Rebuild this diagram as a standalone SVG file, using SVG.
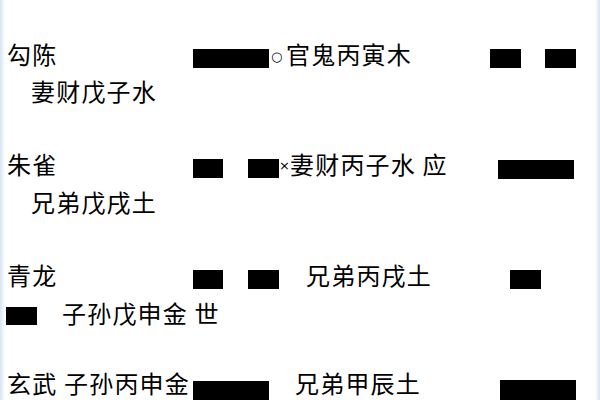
<svg xmlns="http://www.w3.org/2000/svg" width="600" height="400" viewBox="0 0 600 400">
<defs>
<linearGradient id="lb" x1="0" x2="1" y1="0" y2="0"><stop offset="0" stop-color="#d6e4f5"/><stop offset="1" stop-color="#ffffff"/></linearGradient>
<linearGradient id="rb" x1="1" x2="0" y1="0" y2="0"><stop offset="0" stop-color="#d6e4f5"/><stop offset="1" stop-color="#ffffff"/></linearGradient>
</defs>
<style>
text{font-family:"Noto Sans CJK SC","Noto Sans",sans-serif;font-size:24px;letter-spacing:1.2px;fill:#000;}
.sym{font-family:"DejaVu Sans",sans-serif;font-size:13px;letter-spacing:0;}
.bar{fill:#000;}
</style>
<rect width="600" height="400" fill="#fff"/>
<rect x="0" y="0" width="5" height="400" fill="url(#lb)"/>
<rect x="595" y="0" width="5" height="400" fill="url(#rb)"/>
<g id="row1">
<text x="7" y="64">勾陈</text>
<rect class="bar" x="193" y="49" width="76" height="19"/>
<text class="sym" x="271" y="61">○</text>
<text x="286" y="64">官鬼丙寅木</text>
<rect class="bar" x="490" y="49" width="31" height="19"/>
<rect class="bar" x="545" y="49" width="31" height="19"/>
<text x="31" y="101">妻财戊子水</text>
</g>
<g id="row2">
<text x="7" y="174">朱雀</text>
<rect class="bar" x="193" y="159" width="30" height="19"/>
<rect class="bar" x="248" y="159" width="31" height="19"/>
<text class="sym" x="279" y="170">×</text>
<text x="290" y="174">妻财丙子水 应</text>
<rect class="bar" x="498" y="160" width="76" height="19"/>
<text x="31" y="212">兄弟戊戌土</text>
</g>
<g id="row3">
<text x="7" y="285">青龙</text>
<rect class="bar" x="193" y="270" width="30" height="19"/>
<rect class="bar" x="248" y="270" width="31" height="19"/>
<text x="306" y="285">兄弟丙戌土</text>
<rect class="bar" x="510" y="270" width="31" height="19"/>
<rect class="bar" x="6" y="307" width="31" height="18"/>
<text x="62" y="323">子孙戊申金 世</text>
</g>
<g id="row4">
<text x="7" y="393">玄武 子孙丙申金</text>
<rect class="bar" x="193" y="381" width="76" height="19"/>
<text x="295" y="393">兄弟甲辰土</text>
<rect class="bar" x="500" y="380" width="76" height="20"/>
</g>
</svg>
